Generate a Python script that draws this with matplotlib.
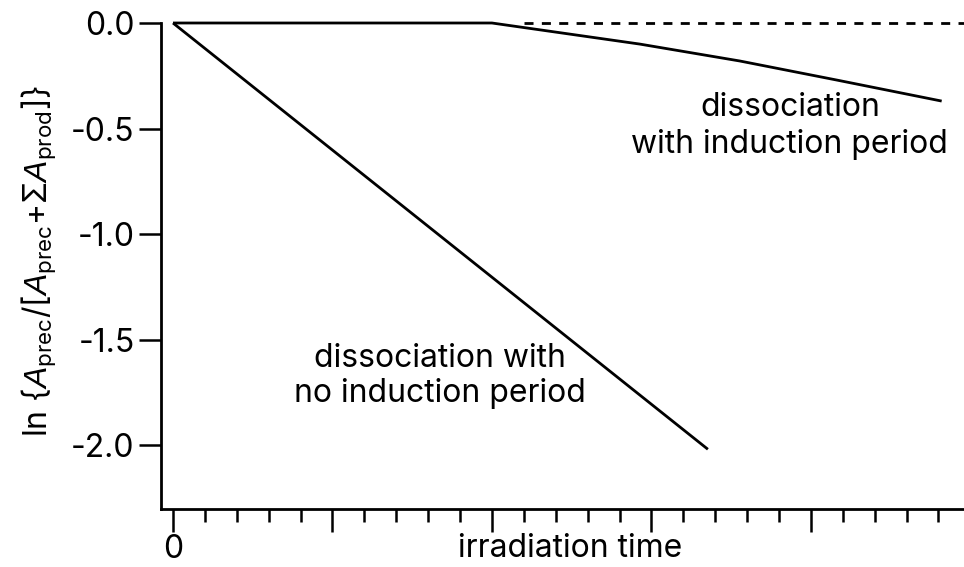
import matplotlib
matplotlib.use("Agg")
import matplotlib.pyplot as plt
from matplotlib.ticker import MultipleLocator, FixedLocator

FONT = 'Inter'
plt.rcParams['font.family'] = [FONT, 'Liberation Sans', 'DejaVu Sans']
plt.rcParams['mathtext.fontset'] = 'custom'
plt.rcParams['mathtext.rm'] = FONT
plt.rcParams['mathtext.it'] = 'Liberation Sans:italic'
plt.rcParams['mathtext.bf'] = FONT + ':bold'
plt.rcParams['lines.scale_dashes'] = False

# Data (x in arbitrary irradiation-time units)
no_induction_x = [0.0, 16.77]
no_induction_y = [0.0, -2.02]

induction_x = [0.0, 10.0, 14.64, 17.77, 20.8, 24.1]
induction_y = [0.0, 0.0, -0.100, -0.180, -0.270, -0.370]

baseline_x = [11.0, 24.8]
baseline_y = [0.0, 0.0]

ytick_values = [0.0, -0.5, -1.0, -1.5, -2.0]
ytick_labels = ['0.0', '-0.5', '-1.0', '-1.5', '-2.0']
xtick_major = [0, 5, 10, 15, 20]
xtick_labels = ['0', '', '', '', '']

fig = plt.figure(figsize=(9.64, 5.67), dpi=100)
ax = fig.add_axes([161/964, 1 - 509/567, (964 - 161)/964, (509 - 23)/567])

lw = 2.0
ax.plot(no_induction_x, no_induction_y, color='black', lw=lw, clip_on=False,
        solid_capstyle='butt')
ax.plot(induction_x, induction_y, color='black', lw=lw, clip_on=False,
        solid_capstyle='butt')
ax.plot(baseline_x, baseline_y, color='black', lw=lw, clip_on=False,
        dashes=(6.5, 6.0))

ax.set_xlim(-0.376, 24.8)
ax.set_ylim(-2.303, 0.0)

for s in ['top', 'right']:
    ax.spines[s].set_visible(False)
for s in ['left', 'bottom']:
    ax.spines[s].set_linewidth(2.0)

ax.set_yticks(ytick_values)
ax.set_yticklabels(ytick_labels)
ax.xaxis.set_major_locator(FixedLocator(xtick_major))
ax.set_xticklabels(xtick_labels)
ax.xaxis.set_minor_locator(MultipleLocator(1))

FS = 23
ax.tick_params(axis='y', which='major', direction='out', length=16, width=1.8,
               labelsize=FS, pad=3)
ax.tick_params(axis='x', which='major', direction='out', length=16.5, width=1.8,
               labelsize=FS, pad=1.5)
ax.tick_params(axis='x', which='minor', direction='out', length=9.5, width=1.8)

ax.set_xlabel('irradiation time', fontsize=FS, va='top')
ax.xaxis.set_label_coords((570 - 161) / (964 - 161), -(533 - 509) / (509 - 23))

ax.set_ylabel(r'ln {$A_{\mathrm{prec}}$/[$A_{\mathrm{prec}}$+$\Sigma A_{\mathrm{prod}}$]}',
              fontsize=23)
ax.yaxis.set_label_coords(-(161 - 58) / (964 - 161), 0.51)

ax.text(19.34, -0.489, 'dissociation\nwith induction period', fontsize=FS,
        ha='center', va='center', linespacing=1.25)
ax.text(8.37, -1.673, 'dissociation with\nno induction period', fontsize=FS,
        ha='center', va='center', linespacing=1.2)

fig.savefig('out.png', dpi=100)
